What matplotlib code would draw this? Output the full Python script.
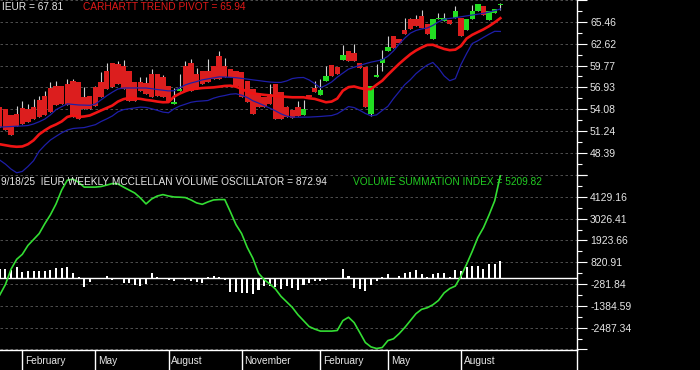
import numpy as np
import pandas as pd
import matplotlib
matplotlib.use('Agg')
import matplotlib.pyplot as plt

plt.rcParams['font.family'] = ['Liberation Sans', 'DejaVu Sans']

# weekly bars, week of 2024-01-01 to week of 2025-09-15
weeks = pd.date_range('2024-01-01', periods=90, freq='W-MON')

opens = [54.34, 54.12, 53.26, 53.48, 54.25, 54.12, 54.42, 55.29, 55.85, 56.84,
         57.14, 57.14, 57.36, 57.79, 57.57, 55.72, 55.85, 56.93, 57.57, 59.08,
         60.16, 59.95, 59.73, 59.08, 57.57, 57.57, 57.44, 58.65, 58.65, 58.22,
         57.14, 54.77, 56.41, 59.73, 60.16, 58.65, 59.08, 59.08, 59.73, 61.02,
         59.73, 59.30, 59.08, 58.87, 57.79, 56.71, 56.06, 55.63, 56.06, 57.36,
         56.28, 54.34, 53.91, 54.42, 53.26, 55.98, 56.84, 55.93, 57.79, 59.86,
         59.60, 60.51, 61.67, 61.45, 60.16, 59.60, 53.48, 58.22, 60.07, 61.67,
         63.61, 63.18, 64.34, 65.77, 65.77, 66.20, 65.21, 63.18, 65.77, 65.55,
         65.64, 65.98, 65.98, 64.34, 65.77, 66.85, 67.49, 65.64, 66.63, 67.62]
highs = [54.34, 54.12, 53.26, 54.55, 55.20, 54.77, 55.42, 55.85, 56.49, 57.57,
         57.79, 57.14, 58.00, 58.00, 57.57, 56.93, 55.85, 57.14, 58.87, 60.16,
         60.16, 60.38, 60.46, 59.08, 57.57, 58.22, 58.22, 59.30, 58.65, 58.57,
         57.14, 56.84, 58.65, 60.38, 60.59, 59.51, 59.08, 60.59, 59.73, 61.67,
         60.81, 59.30, 59.08, 58.87, 57.79, 56.71, 56.06, 55.63, 57.36, 57.36,
         56.28, 54.55, 53.91, 55.20, 55.29, 55.98, 57.79, 58.00, 59.73, 59.86,
         59.60, 62.40, 61.67, 62.62, 60.16, 59.60, 57.14, 59.95, 61.76, 63.61,
         63.61, 63.18, 65.98, 65.98, 66.41, 67.06, 65.21, 65.77, 66.63, 66.63,
         65.64, 67.49, 65.98, 65.77, 67.71, 67.79, 67.49, 66.93, 67.19, 67.92]
lows = [51.75, 51.32, 50.67, 51.84, 52.10, 52.40, 52.83, 53.04, 53.26, 53.69,
        54.68, 54.77, 54.68, 53.04, 52.83, 54.12, 54.12, 54.55, 55.63, 56.71,
        56.93, 57.36, 56.71, 55.11, 55.11, 56.49, 56.06, 55.63, 55.85, 55.63,
        55.20, 54.77, 56.41, 56.49, 56.49, 56.71, 57.36, 57.57, 58.00, 58.00,
        58.22, 58.22, 57.14, 55.63, 54.99, 53.48, 54.34, 54.34, 54.77, 52.83,
        52.83, 53.04, 52.96, 53.13, 53.26, 55.72, 56.28, 55.93, 57.79, 58.44,
        58.65, 60.51, 60.38, 60.38, 59.51, 54.34, 53.13, 58.22, 59.08, 61.67,
        62.10, 62.75, 63.83, 64.47, 64.91, 64.69, 63.83, 63.18, 65.77, 65.55,
        65.21, 65.98, 63.61, 64.34, 65.77, 66.85, 66.41, 65.64, 66.63, 67.06]
closes = [51.75, 51.32, 50.67, 51.84, 52.10, 52.40, 52.83, 53.04, 53.26, 53.69,
          54.68, 54.77, 54.68, 53.04, 52.83, 54.12, 54.12, 54.55, 55.63, 56.71,
          56.93, 57.36, 56.71, 55.11, 55.11, 56.49, 56.06, 55.63, 55.85, 55.63,
          55.20, 55.07, 56.67, 56.49, 56.49, 56.71, 57.36, 57.57, 58.00, 58.00,
          58.22, 58.22, 57.14, 55.63, 54.99, 53.48, 54.34, 54.34, 54.77, 52.83,
          52.83, 53.04, 52.96, 53.13, 54.12, 55.72, 56.28, 56.58, 58.39, 58.44,
          58.65, 61.11, 60.38, 60.38, 59.51, 54.34, 57.14, 58.57, 60.59, 62.19,
          62.10, 62.75, 63.83, 64.47, 64.91, 64.69, 63.83, 65.77, 65.98, 65.98,
          65.21, 66.85, 63.61, 65.77, 66.85, 67.79, 66.41, 66.93, 67.19, 67.81]

# Carhartt trend pivot (red) and the two blue bands
pivot = [49.51, 49.38, 49.25, 49.18, 49.22, 49.51, 50.02, 50.80, 51.32, 51.77,
         52.09, 52.48, 53.07, 53.26, 53.07, 53.13, 53.26, 53.58, 53.91, 54.23,
         54.55, 55.07, 55.39, 55.55, 55.48, 55.42, 55.29, 55.20, 55.07, 54.98,
         55.00, 55.72, 56.11, 56.43, 56.69, 56.75, 56.84, 56.88, 56.92, 57.01,
         57.11, 57.14, 57.01, 56.71, 56.36, 56.14, 56.04, 55.95, 55.88, 55.81,
         55.74, 55.68, 55.63, 55.63, 55.63, 55.50, 55.42, 55.20, 54.98, 55.07,
         55.46, 56.49, 56.95, 57.04, 56.84, 56.69, 56.69, 57.27, 57.79, 58.56,
         59.28, 59.99, 60.63, 61.24, 61.73, 62.12, 62.45, 62.47, 62.19, 61.93,
         61.77, 61.84, 62.32, 63.29, 63.77, 64.13, 64.48, 64.90, 65.40, 65.94]
upper_band = [51.74, 51.78, 51.82, 51.86, 51.90, 51.95, 52.15, 52.44, 52.79, 53.34,
              54.01, 54.41, 54.77, 54.70, 54.63, 54.61, 54.58, 54.75, 55.29, 55.82,
              56.29, 56.71, 56.84, 56.84, 56.84, 56.84, 56.84, 56.75, 56.64, 56.55,
              56.46, 56.48, 56.89, 57.25, 57.49, 57.68, 57.90, 58.03, 58.16, 58.29,
              58.27, 58.23, 58.18, 58.09, 58.00, 57.90, 57.81, 57.71, 57.62, 57.57,
              57.57, 57.76, 58.07, 58.18, 58.21, 57.89, 57.41, 56.87, 57.20, 57.62,
              58.25, 58.78, 59.30, 59.55, 59.78, 60.01, 60.21, 60.36, 60.52, 60.98,
              61.67, 62.55, 63.34, 63.99, 64.34, 64.54, 64.66, 65.00, 65.46, 65.80,
              65.91, 65.99, 66.12, 66.24, 66.35, 66.46, 66.57, 66.74, 66.92, 67.14]
lower_band = [47.44, 46.92, 46.27, 45.79, 45.96, 46.61, 47.36, 48.60, 49.38, 50.06,
              50.54, 50.99, 51.36, 51.56, 51.63, 51.68, 51.87, 52.06, 52.47, 52.81,
              53.19, 53.73, 54.02, 54.14, 54.24, 54.35, 54.31, 54.14, 53.93, 53.70,
              53.61, 54.13, 54.49, 54.73, 54.98, 55.10, 55.15, 55.21, 55.51, 55.72,
              55.86, 56.03, 56.09, 55.90, 55.60, 55.17, 54.88, 54.55, 54.22, 53.87,
              53.47, 53.18, 53.04, 53.04, 53.04, 53.05, 53.09, 53.13, 53.19, 53.25,
              53.48, 53.93, 54.42, 54.29, 53.93, 53.52, 53.21, 53.34, 53.91, 54.45,
              55.46, 56.36, 57.27, 57.92, 58.71, 59.31, 59.83, 60.17, 59.42, 58.42,
              57.79, 58.06, 59.90, 61.33, 62.64, 63.00, 63.44, 63.86, 64.23, 64.21]

# McClellan volume oscillator (white bars) and summation index (green)
oscillator = [465, 500, 415, 570, 335, 365, 365, 365, 385, 415,
              535, 535, 565, 285, 50, -450, -165, -15, 10, 115,
              -85, -50, -215, -250, -335, -385, -275, 260, 100, 30,
              -80, -110, -10, -75, -110, -165, -210, 65, 115, 60,
              -95, -665, -665, -710, -750, -800, -585, -375, -360, -415,
              -540, -400, -460, -570, -335, -250, -150, -110, -95, -50,
              30, 460, 115, -460, -540, -610, -335, -135, 100, 210,
              25, 115, 285, 330, 415, 210, 85, 250, 290, 265,
              100, 415, 375, 600, 630, 640, 460, 710, 710, 872.94]
summation = [-830, -305, 470, 970, 1220, 1670, 1970, 2270, 2770, 3220,
             3770, 4470, 4970, 5020, 4870, 4620, 4620, 4620, 4650, 4720,
             4800, 4780, 4620, 4470, 4320, 4070, 3770, 4020, 4170, 4240,
             4170, 4120, 4110, 4090, 3970, 3820, 3750, 3870, 3970, 3990,
             3990, 3370, 2720, 2270, 1570, 1020, 270, -55, -280, -530,
             -905, -1180, -1460, -1830, -2130, -2430, -2560, -2660, -2660, -2660,
             -2630, -2130, -1960, -2230, -2730, -3240, -3460, -3540, -3490, -3140,
             -3050, -2790, -2480, -2130, -1780, -1560, -1480, -1330, -1110, -730,
             -510, -380, 120, 720, 1370, 2070, 2570, 3220, 3930, 5209.82]

price_ticks = [45.54, 48.39, 51.24, 54.08, 56.93, 59.77, 62.62, 65.46, 68.31]
price_labels = ['', '48.39', '51.24', '54.08', '56.93', '59.77', '62.62', '65.46', '']
osc_ticks = [-3590.09, -2487.34, -1384.59, -281.84, 820.91, 1923.66, 3026.41, 4129.16, 5231.91]
osc_labels = ['', '-2487.34', '-1384.59', '-281.84', '820.91', '1923.66', '3026.41', '4129.16', '']

BG = 'black'
RED = '#dc1e1e'
GREEN = '#22dd22'
BLUE = '#1e1ea8'
GRID = '#5a5a5a'
TXT = '#e6e6e6'

W, H = 700, 370
AXW = 577 / W
XLIM = (0.035, 102.63)

fig = plt.figure(figsize=(7, 3.7), dpi=100, facecolor=BG)
ax1 = fig.add_axes([0, 1 - 175 / H, AXW, 175 / H], facecolor=BG)
ax2 = fig.add_axes([0, 20 / H, AXW, 175 / H], facecolor=BG)
ax3 = fig.add_axes([0, 0, AXW, 20 / H], facecolor=BG)

x = np.arange(len(weeks))


def style_panel(ax, ticks, labels):
    for s in ['top', 'bottom', 'left']:
        ax.spines[s].set_visible(False)
    ax.spines['right'].set_color('white')
    ax.spines['right'].set_linewidth(1)
    ax.set_xlim(*XLIM)
    ax.set_xticks([])
    ax.yaxis.tick_right()
    ax.set_yticks(ticks)
    ax.set_yticklabels(labels)
    mids = [(a + b) / 2 for a, b in zip(ticks[:-1], ticks[1:])]
    ax.set_yticks(mids, minor=True)
    ax.tick_params(axis='y', which='major', length=7.2, width=0.8, color='white',
                   labelcolor=TXT, labelsize=7.5, pad=2.2)
    ax.tick_params(axis='y', which='minor', length=3.6, width=0.8, color='white')
    for v in ticks:
        ax.axhline(v, color=GRID, lw=0.6, ls=(0, (3, 3)), zorder=1)


# price panel
o = np.array(opens)
c = np.array(closes)
up = c >= o
body_low = np.minimum(o, c)
body_h = np.maximum(np.abs(c - o), 0.1)
ax1.vlines(x, lows, highs, color='#d0d0d0', lw=0.8, zorder=2)
ax1.bar(x, body_h, bottom=body_low, width=0.95, color=np.where(up, GREEN, RED),
        linewidth=0, zorder=3)
ax1.plot(x, upper_band, color=BLUE, lw=0.9, zorder=4)
ax1.plot(x, lower_band, color=BLUE, lw=0.9, zorder=4)
ax1.plot(x, pivot, color='#f01414', lw=1.9, zorder=5)
ax1.set_ylim(45.50, 68.14)
style_panel(ax1, price_ticks, price_labels)

# oscillator panel
ax2.bar(x, oscillator, width=0.36, color='white', linewidth=0, zorder=3)
ax2.axhline(0, color='white', lw=1, zorder=3)
ax2.plot(x, summation, color='#33dd33', lw=1.2, zorder=4)
ax2.set_ylim(-3616, 5140)
style_panel(ax2, osc_ticks, osc_labels)

# month band
ax3.set_xlim(*XLIM)
ax3.set_ylim(0, 1)
ax3.set_xticks([])
ax3.set_yticks([])
for s in ['bottom', 'left']:
    ax3.spines[s].set_visible(False)
for s in ['top', 'right']:
    ax3.spines[s].set_color('white')
    ax3.spines[s].set_linewidth(1)
fridays = weeks + pd.Timedelta(days=4)
for i in range(1, len(weeks)):
    m = fridays[i].month
    if m != fridays[i - 1].month and m in (2, 5, 8, 11):
        ax3.axvline(i, color='white', lw=1)
        ax3.text(i + 0.5, 0.47, fridays[i].strftime('%B'), color=TXT, fontsize=7.3,
                 ha='left', va='center')

# header texts
fig.text(2 / W, 1 - 7.5 / H, 'IEUR = 67.81', color=TXT, fontsize=7.3, va='center')
fig.text(83 / W, 1 - 7.5 / H, 'CARHARTT TREND PIVOT = 65.94', color='#e01818',
         fontsize=7.3, va='center')
fig.text(1 / W, 1 - 182 / H, '9/18/25  IEUR WEEKLY MCCLELLAN VOLUME OSCILLATOR = 872.94',
         color=TXT, fontsize=7.3, va='center')
fig.text(353 / W, 1 - 182 / H, 'VOLUME SUMMATION INDEX = 5209.82', color='#22cc22',
         fontsize=7.3, va='center')

fig.savefig('out.png', dpi=100, facecolor=BG)
